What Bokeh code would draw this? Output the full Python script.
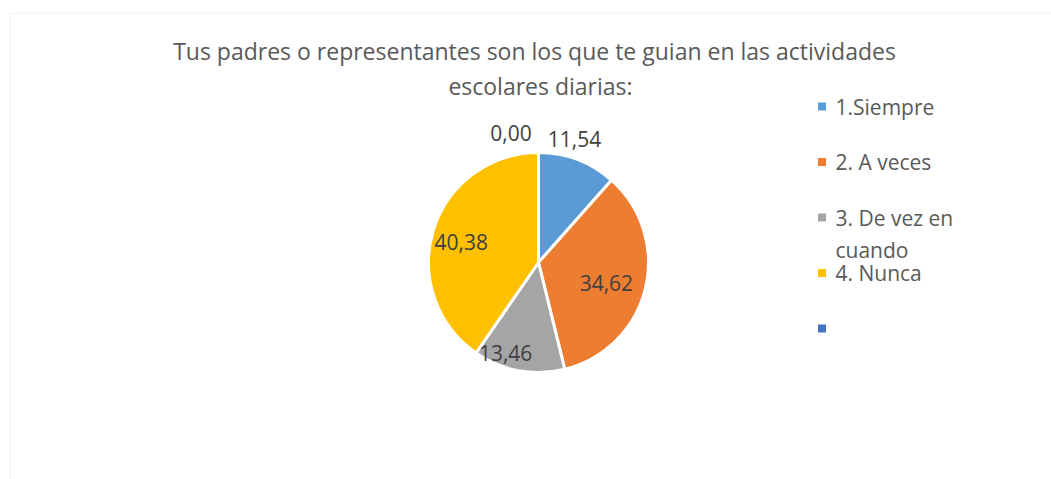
import numpy as np
from bokeh.plotting import figure
from bokeh.models import Range1d, ColumnDataSource, BoxAnnotation
from bokeh.core.properties import value
from bokeh.embed import file_html
from bokeh.resources import INLINE

# ---- data ----
title_lines = ["Tus padres o representantes son los que  te guian  en las actividades",
               "escolares diarias:"]
categories = ["1.Siempre", "2. A veces", "3. De vez en cuando", "4. Nunca", ""]
legend_lines = ["1.Siempre", "2. A veces", "3. De vez en\ncuando", "4. Nunca", ""]
values = [11.54, 34.62, 13.46, 40.38, 0.00]
colors = ["#5B9BD5", "#ED7D31", "#A5A5A5", "#FFC000", "#4472C4"]

# ---- layout / style ----
W, H = 1051, 479
FONT = "Open Sans"
cx, cy, R = 538, H - 262, 110
label_r = [1.173, 0.645, 0.873, 0.727, 1.2]
label_dtheta = [-4.6, 3.0, 9.6, -2.3, -12.0]

p = figure(width=W, height=H, x_range=Range1d(0, W), y_range=Range1d(0, H),
           output_backend="svg", toolbar_location=None, min_border=0)
p.axis.visible = False
p.grid.visible = False
p.outline_line_color = None
p.background_fill_color = "white"
p.border_fill_color = "white"

# chart-area border (extends past the window on right/bottom)
p.add_layout(BoxAnnotation(left=9.7, right=W + 50, top=H - 12.7, bottom=-50,
                           fill_alpha=0, line_color="#d9d9d9", line_width=1.5))

vals = np.array(values, dtype=float)
frac = vals / vals.sum()
cum_end = np.cumsum(frac)
cum_start = cum_end - frac
start_ang = np.pi / 2 - 2 * np.pi * cum_start
end_ang = np.pi / 2 - 2 * np.pi * cum_end
mask = vals > 0

wsrc = ColumnDataSource(dict(
    x=[cx] * int(mask.sum()), y=[cy] * int(mask.sum()),
    start=list(start_ang[mask]), end=list(end_ang[mask]),
    color=[c for c, m in zip(colors, mask) if m]))
p.wedge(x="x", y="y", radius=R, start_angle="start", end_angle="end",
        direction="clock", fill_color="color", line_color="white",
        line_width=3, source=wsrc)

# data labels
mid_deg = 360 * (cum_start + cum_end) / 2 + np.array(label_dtheta)
th = np.deg2rad(mid_deg)
lx = cx + R * np.array(label_r) * np.sin(th)
ly = cy + R * np.array(label_r) * np.cos(th)
labels = [f"{v:.2f}".replace(".", ",") for v in values]
p.text(x=list(lx), y=list(ly), text=labels, text_font=value(FONT),
       text_font_size="21px", text_color="#404040",
       text_align="center", text_baseline="middle")

# title
p.text(x=[540, 540], y=[H - 50, H - 85], text=title_lines, text_font=value(FONT),
       text_font_size="23px", text_color="#595959",
       text_align="center", text_baseline="middle")

# legend
n = len(categories)
ly0 = H - 106
sp = 55.5
lg_y = [ly0 - i * sp for i in range(n)]
p.scatter(x=[821.5] * n, y=lg_y, marker="square", size=8,
          fill_color=colors, line_color=None)
p.text(x=[835] * n, y=[yy + 14 for yy in lg_y], text=legend_lines,
       text_font=value(FONT), text_font_size="21px", text_color="#595959",
       text_align="left", text_baseline="top", text_line_height=1.17)

open("out.html", "w").write(file_html(p, INLINE))
